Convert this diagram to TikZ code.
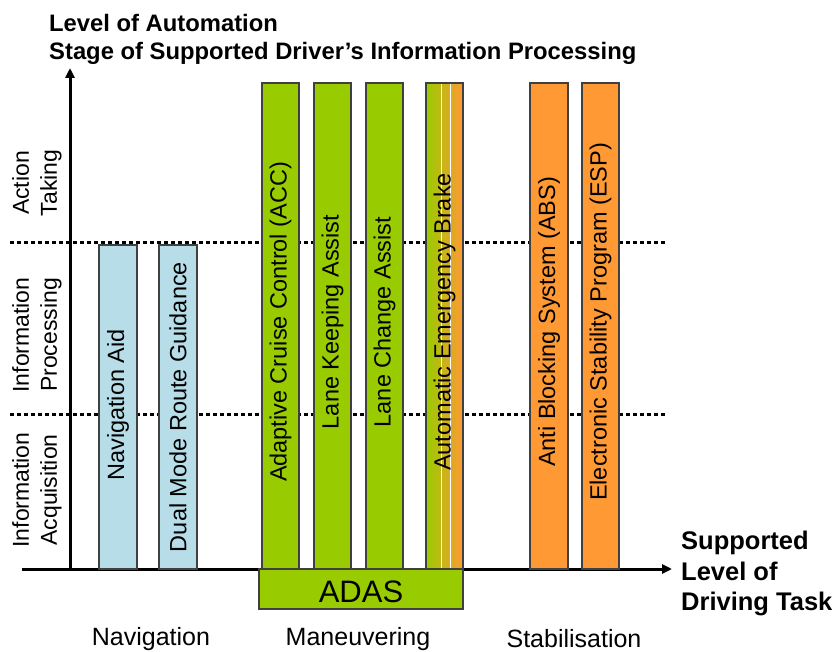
\documentclass[tikz,border=0pt]{standalone}
\usepackage{fontspec}
\setmainfont{Liberation Sans}
\usetikzlibrary{arrows.meta}
\definecolor{adasgreen}{HTML}{99CC00}
\definecolor{stabor}{HTML}{FF9933}
\definecolor{navblue}{HTML}{B7DEE8}
\definecolor{barline}{HTML}{404040}
\tikzset{
  barbox/.style={draw=barline, line width=1.1pt},
  barlabel/.style={rotate=90, inner sep=0pt, font=\fontsize{23.5}{26}\selectfont},
  sidelabel/.style={rotate=90, inner sep=0pt, align=center, font=\fontsize{23}{28}\selectfont},
  catlabel/.style={inner sep=0pt, font=\fontsize{25}{28}\selectfont},
  boldlabel/.style={inner sep=0pt, anchor=base west, font=\bfseries\fontsize{25.5}{30}\selectfont},
  titlelabel/.style={inner sep=0pt, anchor=base west, font=\bfseries\fontsize{23.8}{26}\selectfont},
  levelline/.style={line width=3pt, dash pattern=on 3.5pt off 3.5pt},
  axis/.style={line width=3pt, -{Triangle[length=10pt,width=9pt]}},
}
\begin{document}
\begin{tikzpicture}[x=1pt,y=-1pt]
\useasboundingbox (0,0) rectangle (836,652);
% level separators
\coordinate (d1s) at (10,243); \coordinate (d1e) at (665,243);
\coordinate (d2s) at (10,415); \coordinate (d2e) at (665,415);
\draw[levelline] (d1s) -- (d1e);
\draw[levelline] (d2s) -- (d2e);
% axes
\coordinate (o) at (70,569);
\coordinate (ytop) at (70,68);
\coordinate (xl) at (22,569);
\coordinate (xr) at (672,569);
\draw[axis] (o) -- (ytop);
\draw[axis] (xl) -- (xr);
% navigation bars
\draw[barbox, fill=navblue] (99,245) rectangle (137,569);
\node[barlabel] (nav) at (118,405) {Navigation Aid};
\draw[barbox, fill=navblue] (159,245) rectangle (197,569);
\node[barlabel] (dmrg) at (178,407) {Dual Mode Route Guidance};
% maneuvering bars
\draw[barbox, fill=adasgreen] (262,83) rectangle (299,569);
\node[barlabel] (acc) at (280.5,322) {Adaptive Cruise Control (ACC)};
\draw[barbox, fill=adasgreen] (314,83) rectangle (351,569);
\node[barlabel] (lka) at (332.5,322) {Lane Keeping Assist};
\draw[barbox, fill=adasgreen] (366,83) rectangle (403,569);
\node[barlabel] (lca) at (384.5,322) {Lane Change Assist};
\fill[left color=adasgreen, right color=stabor, middle color=adasgreen!50!stabor] (426,83) rectangle (463,569);
\draw[white, line width=1pt] (441,84) -- (441,568);
\draw[white, line width=1pt] (450,84) -- (450,568);
\draw[barbox] (426,83) rectangle (463,569);
\node[barlabel] (aeb) at (444.5,322) {Automatic Emergency Brake};
% stabilisation bars
\draw[barbox, fill=stabor] (530,83) rectangle (568,569);
\node[barlabel] (abs) at (549,322) {Anti Blocking System (ABS)};
\draw[barbox, fill=stabor] (582,83) rectangle (619,569);
\node[barlabel] (esp) at (600.5,322) {Electronic Stability Program (ESP)};
% ADAS box
\draw[barbox, fill=adasgreen] (259,569) rectangle (463,609);
\node[inner sep=0pt, font=\fontsize{31}{34}\selectfont] (adas) at (361,592) {ADAS};
% side labels
\node[sidelabel] (act) at (37,183) {Action\\Taking};
\node[sidelabel] (proc) at (37,335) {Information\\Processing};
\node[sidelabel] (acq) at (37,490) {Information\\Acquisition};
% category labels
\node[catlabel] (catnav) at (151,639) {Navigation};
\node[catlabel] (catman) at (358,639) {Maneuvering};
\node[catlabel] (catstab) at (574,639) {Stabilisation};
% titles
\node[titlelabel] (t1) at (49,32) {Level of Automation};
\node[titlelabel] (t2) at (49,60) {Stage of Supported Driver’s Information Processing};
\node[boldlabel] (r1) at (681,549) {Supported};
\node[boldlabel] (r2) at (681,580) {Level of};
\node[boldlabel] (r3) at (681,610) {Driving Task};
\end{tikzpicture}
\end{document}
